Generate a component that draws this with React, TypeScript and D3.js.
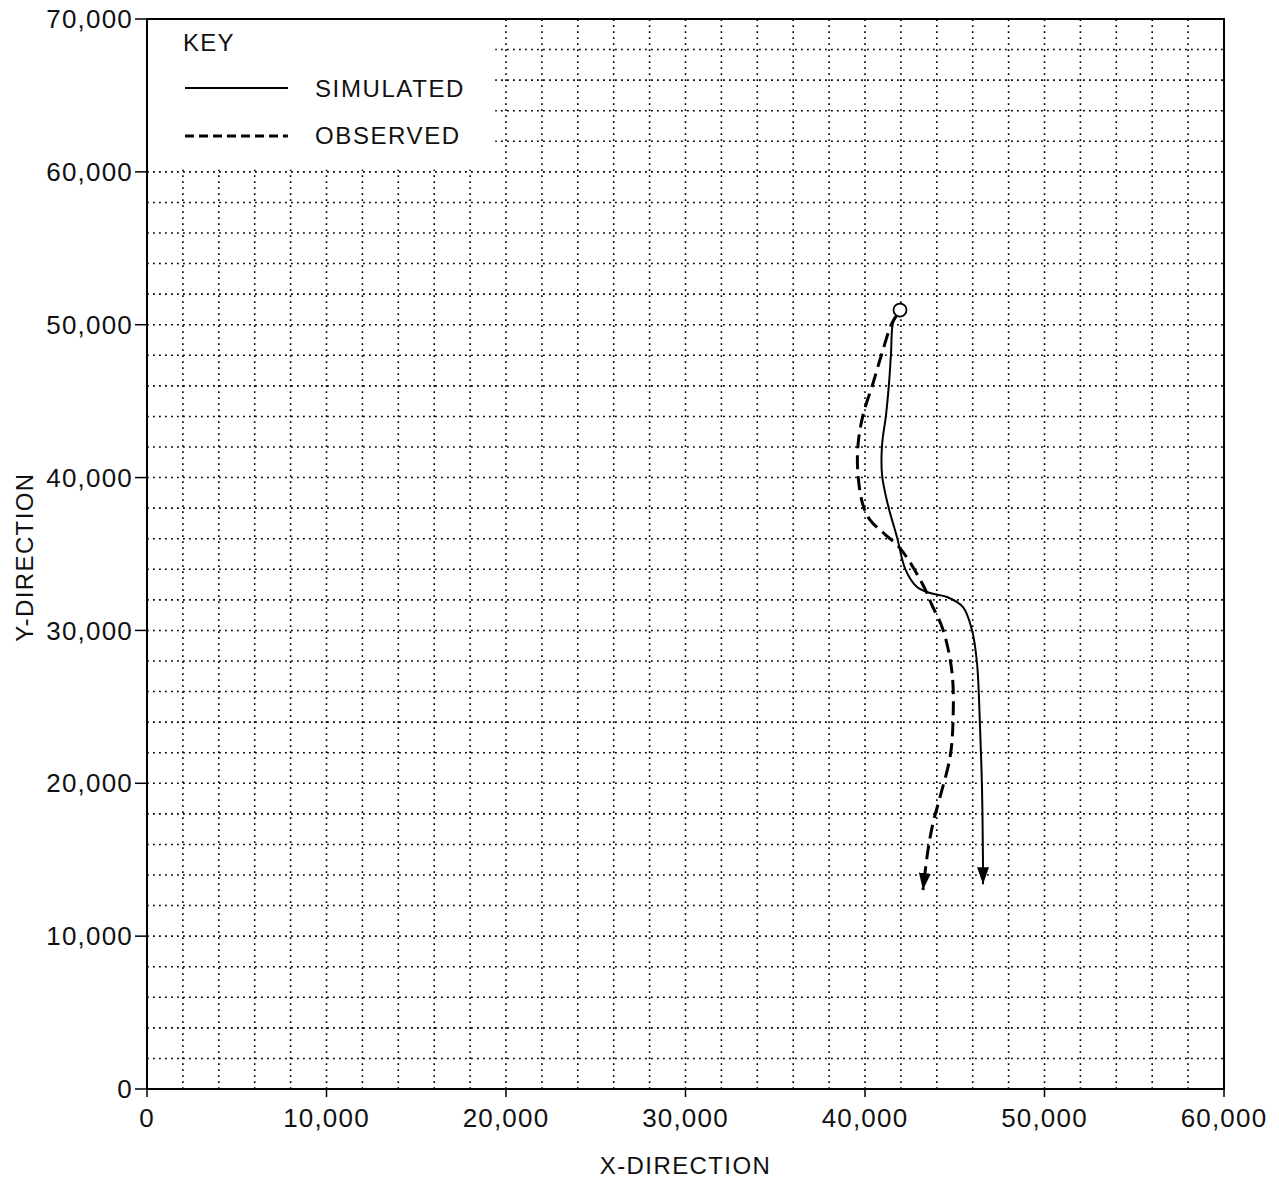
import React from "react";
import * as d3 from "d3";

const xTicks = [0, 10000, 20000, 30000, 40000, 50000, 60000];
const yTicks = [0, 10000, 20000, 30000, 40000, 50000, 60000, 70000];
const gridStep = 2000;

const sourcePoint = { x: 41950, y: 50960 };

const simulatedPath = [
  { x: 41800, y: 50650 },
  { x: 41560, y: 50110 },
  { x: 41450, y: 48150 },
  { x: 41340, y: 46190 },
  { x: 41170, y: 44090 },
  { x: 40950, y: 42130 },
  { x: 40950, y: 40170 },
  { x: 41280, y: 38200 },
  { x: 41780, y: 36110 },
  { x: 42250, y: 34000 },
  { x: 42900, y: 32840 },
  { x: 43620, y: 32450 },
  { x: 44570, y: 32190 },
  { x: 45460, y: 31530 },
  { x: 45960, y: 30030 },
  { x: 46240, y: 27870 },
  { x: 46400, y: 23940 },
  { x: 46520, y: 19560 },
  { x: 46570, y: 15180 },
  { x: 46575, y: 13400 },
];

const observedPath = [
  { x: 41800, y: 50650 },
  { x: 41500, y: 50110 },
  { x: 40950, y: 48150 },
  { x: 40450, y: 46190 },
  { x: 39890, y: 44090 },
  { x: 39610, y: 42130 },
  { x: 39610, y: 40170 },
  { x: 39890, y: 38200 },
  { x: 40300, y: 37200 },
  { x: 41100, y: 36300 },
  { x: 41900, y: 35450 },
  { x: 42670, y: 34150 },
  { x: 43450, y: 32450 },
  { x: 43680, y: 31790 },
  { x: 44350, y: 30030 },
  { x: 44850, y: 27220 },
  { x: 44900, y: 23940 },
  { x: 44740, y: 21720 },
  { x: 44180, y: 19100 },
  { x: 43790, y: 17400 },
  { x: 43510, y: 15640 },
  { x: 43230, y: 13020 },
];

const legendItems = [
  { label: "SIMULATED", dash: "none", width: 2 },
  { label: "OBSERVED", dash: "9,5", width: 3 },
];

const W = 1279;
const H = 1181;
const left = 147;
const right = 1224;
const top = 19;
const bottom = 1089;
const FONT = "'Liberation Sans', Arial, Helvetica, sans-serif";

export default function App() {
  const x = d3.scaleLinear().domain([0, 60000]).range([left, right]);
  const y = d3.scaleLinear().domain([0, 70000]).range([bottom, top]);
  const fmt = d3.format(",");

  const gridX = d3.range(gridStep, 60000, gridStep);
  const gridY = d3.range(gridStep, 70000, gridStep);

  const line = d3
    .line<{ x: number; y: number }>()
    .x((d) => x(d.x))
    .y((d) => y(d.y))
    .curve(d3.curveCatmullRom.alpha(0.5));

  const legX1 = x(0);
  const legX2 = x(19400);
  const legY1 = y(70000);
  const legY2 = y(60150);

  return (
    <svg
      width={W}
      height={H}
      style={{ position: "absolute", left: 0, top: 0, background: "#fff" }}
    >
      <defs>
        <marker
          id="arrow"
          markerUnits="userSpaceOnUse"
          markerWidth={20}
          markerHeight={14}
          refX={17}
          refY={6}
          orient="auto"
        >
          <path d="M0,0 L17,6 L0,12 Z" fill="#000" />
        </marker>
      </defs>
      <rect x={0} y={0} width={W} height={H} fill="#fff" />

      {/* grid */}
      <g stroke="#000" strokeWidth={1.6} strokeDasharray="1.8,4.2">
        {gridX.map((v) => (
          <line key={"gx" + v} x1={x(v)} x2={x(v)} y1={y(0)} y2={y(70000)} />
        ))}
        {gridY.map((v) => (
          <line key={"gy" + v} x1={x(0)} x2={x(60000)} y1={y(v)} y2={y(v)} />
        ))}
      </g>

      {/* legend box (covers grid) */}
      <rect x={legX1} y={legY1} width={legX2 - legX1} height={legY2 - legY1} fill="#fff" />
      <text x={183} y={51} fontFamily={FONT} fontSize={24} letterSpacing={1.2} fill="#111">
        KEY
      </text>
      {legendItems.map((it, i) => (
        <g key={it.label}>
          <line
            x1={185}
            x2={288}
            y1={88 + i * 48}
            y2={88 + i * 48}
            stroke="#000"
            strokeWidth={it.width}
            strokeDasharray={it.dash}
          />
          <text
            x={315}
            y={97 + i * 47}
            fontFamily={FONT}
            fontSize={24}
            letterSpacing={1.6}
            fill="#111"
          >
            {it.label}
          </text>
        </g>
      ))}

      {/* frame */}
      <rect
        x={left}
        y={top}
        width={right - left}
        height={bottom - top}
        fill="none"
        stroke="#000"
        strokeWidth={2}
      />

      {/* y ticks */}
      {yTicks.map((v) => (
        <g key={"yt" + v}>
          <line x1={left - 12} x2={left} y1={y(v)} y2={y(v)} stroke="#000" strokeWidth={1.5} />
          <text
            x={left - 14}
            y={y(v)}
            dy="0.35em"
            textAnchor="end"
            fontFamily={FONT}
            fontSize={26}
            letterSpacing={1.2}
            fill="#111"
          >
            {fmt(v)}
          </text>
        </g>
      ))}

      {/* x ticks */}
      {xTicks.map((v) => (
        <g key={"xt" + v}>
          <line x1={x(v)} x2={x(v)} y1={bottom} y2={bottom + 8} stroke="#000" strokeWidth={1.5} />
          <text
            x={x(v)}
            y={bottom + 38}
            textAnchor="middle"
            fontFamily={FONT}
            fontSize={26}
            letterSpacing={1.2}
            fill="#111"
          >
            {fmt(v)}
          </text>
        </g>
      ))}

      {/* axis titles */}
      <text
        x={(left + right) / 2}
        y={1174}
        textAnchor="middle"
        fontFamily={FONT}
        fontSize={24}
        letterSpacing={1.4}
        fill="#111"
      >
        X-DIRECTION
      </text>
      <text
        transform={`translate(33,${y(34800)}) rotate(-90)`}
        textAnchor="middle"
        fontFamily={FONT}
        fontSize={24}
        letterSpacing={1.4}
        fill="#111"
      >
        Y-DIRECTION
      </text>

      {/* paths */}
      <path
        d={line(simulatedPath) || ""}
        fill="none"
        stroke="#000"
        strokeWidth={2}
        markerEnd="url(#arrow)"
      />
      <path
        d={line(observedPath) || ""}
        fill="none"
        stroke="#000"
        strokeWidth={3}
        strokeDasharray="14,7"
        markerEnd="url(#arrow)"
      />

      {/* source point */}
      <circle cx={x(sourcePoint.x)} cy={y(sourcePoint.y)} r={6.5} fill="#fff" stroke="#000" strokeWidth={1.8} />
    </svg>
  );
}
